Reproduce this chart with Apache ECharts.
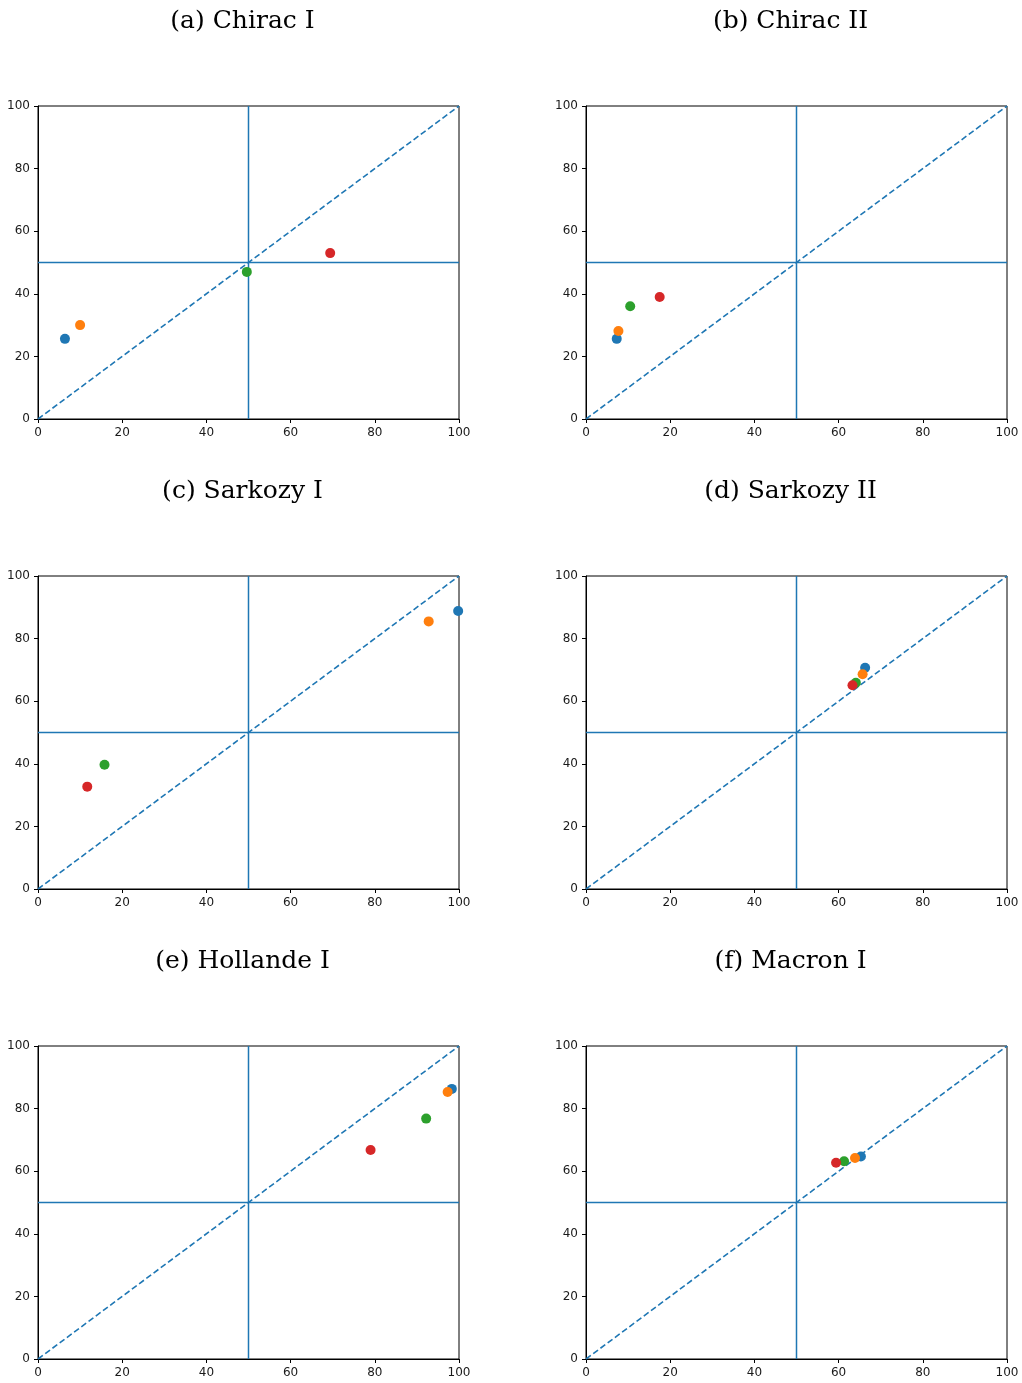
<!DOCTYPE html>
<html>
<head>
<meta charset="utf-8">
<script src="https://cdn.jsdelivr.net/npm/echarts@6/dist/echarts.min.js"></script>
<style>
  html, body { margin: 0; padding: 0; background: #fff; }
  #chart { width: 1022px; height: 1383px; }
</style>
</head>
<body>
<div id="chart"></div>
<script>
// Panel titles, one per government
const panelTitles = ['(a) Chirac I', '(b) Chirac II', '(c) Sarkozy I', '(d) Sarkozy II', '(e) Hollande I', '(f) Macron I'];

// Points per panel, ordered blue, orange, green, red: [x, y]
const chiracI     = [[6.4, 25.6], [10.0, 30.0], [49.6, 47.0], [69.4, 53.0]];
const chiracII    = [[7.3, 25.6], [7.7, 28.1], [10.5, 36.0], [17.5, 39.0]];
const sarkozyI    = [[99.8, 88.8], [92.8, 85.5], [15.8, 39.7], [11.7, 32.7]];
const sarkozyII   = [[66.3, 70.7], [65.7, 68.6], [64.1, 65.9], [63.3, 65.1]];
const hollandeI   = [[98.3, 86.3], [97.3, 85.3], [92.2, 76.8], [79.0, 66.8]];
const macronI     = [[65.3, 64.7], [63.9, 64.2], [61.3, 63.2], [59.4, 62.7]];
const panelPoints = [chiracI, chiracII, sarkozyI, sarkozyII, hollandeI, macronI];

// Point colours (matplotlib tab10 cycle)
const pointColors = ['#1f77b4', '#ff7f0e', '#2ca02c', '#d62728'];

// Reference lines: midpoint threshold and the identity diagonal
const threshold = 50;
const axisMin = 0;
const axisMax = 100;
const tickStep = 20;

const lineColor = '#1f77b4';
const colLeft = [38, 586];
const rowTop = [106, 576, 1046];
const plotW = 421;
const plotH = 313;

const grids = [], xAxes = [], yAxes = [], series = [], titles = [];

panelPoints.forEach((pts, i) => {
  const col = i % 2, row = Math.floor(i / 2);
  const left = colLeft[col], top = rowTop[row];
  grids.push({
    left: left, top: top, width: plotW, height: plotH,
    show: true, borderColor: '#000', borderWidth: 1, backgroundColor: '#fff'
  });
  const axisCommon = {
    gridIndex: i, type: 'value', min: axisMin, max: axisMax, interval: tickStep,
    splitLine: { show: false },
    axisLine: { show: true, onZero: false, lineStyle: { color: '#000', width: 1 } },
    axisTick: { show: true, inside: false, length: 4, lineStyle: { color: '#000', width: 1 } },
    axisLabel: { color: '#1a1a1a', fontFamily: 'DejaVu Sans', fontSize: 12, margin: 8 }
  };
  xAxes.push(Object.assign({}, axisCommon, { position: 'bottom' }));
  yAxes.push(Object.assign({}, axisCommon, { position: 'left' }));

  titles.push({
    text: panelTitles[i],
    left: left + plotW / 2 - 11, top: top - 106 + 4, textAlign: 'center',
    textStyle: { fontFamily: 'DejaVu Serif', fontSize: 25, fontWeight: 'normal', color: '#000' }
  });

  // horizontal and vertical threshold lines
  series.push({
    type: 'line', xAxisIndex: i, yAxisIndex: i, symbol: 'none', silent: true, z: 2,
    data: [[axisMin, threshold], [axisMax, threshold]],
    lineStyle: { color: lineColor, width: 1.5 }
  });
  series.push({
    type: 'line', xAxisIndex: i, yAxisIndex: i, symbol: 'none', silent: true, z: 2,
    data: [[threshold, axisMin], [threshold, axisMax]],
    lineStyle: { color: lineColor, width: 1.5 }
  });
  // dashed diagonal y = x
  series.push({
    type: 'line', xAxisIndex: i, yAxisIndex: i, symbol: 'none', silent: true, z: 2,
    data: [[axisMin, axisMin], [axisMax, axisMax]],
    lineStyle: { color: lineColor, width: 1.6, type: [6, 3] }
  });
  // points
  series.push({
    type: 'scatter', xAxisIndex: i, yAxisIndex: i, z: 3, symbolSize: 10,
    data: pts.map((p, k) => ({ value: p, itemStyle: { color: pointColors[k], opacity: 1 } }))
  });
});

const chart = echarts.init(document.getElementById('chart'), null, { renderer: 'canvas' });
chart.setOption({
  animation: false,
  backgroundColor: '#fff',
  title: titles,
  grid: grids,
  xAxis: xAxes,
  yAxis: yAxes,
  series: series
});
</script>
</body>
</html>
